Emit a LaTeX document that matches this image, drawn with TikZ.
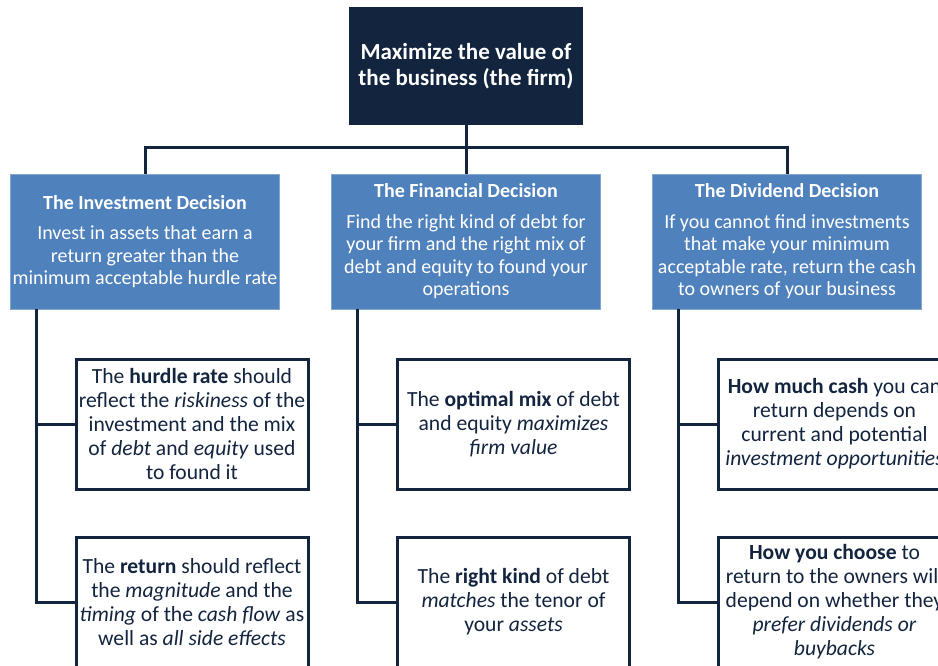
\documentclass[tikz,border=0pt]{standalone}
\usepackage{fontspec}
\setmainfont{Carlito}
\definecolor{navy}{HTML}{13243F}
\definecolor{decblue}{HTML}{4F81BD}
\begin{document}
\begin{tikzpicture}[x=1pt,y=-1pt,
    goalbox/.style={fill=navy, text=white, minimum width=234pt, minimum height=118pt, inner sep=0pt, align=center, font=\fontsize{23}{26}\selectfont\bfseries},
    decbox/.style={fill=decblue, draw=decblue!70!white, line width=0.8pt, text=white, minimum width=269pt, minimum height=135pt, inner sep=0pt, align=center, font=\fontsize{20}{22.5}\selectfont},
    notebox/.style={draw=navy, line width=3pt, fill=white, text=navy, minimum width=232pt, minimum height=130pt, inner sep=0pt, align=center, font=\fontsize{21.6}{24}\selectfont},
    link/.style={draw=navy, line width=3pt}]
                  \useasboundingbox (0,0) rectangle (938,665);
                  \clip (0,0) rectangle (938,665);
                  \node [goalbox] (goal) at (466,66) {Maximize the value of\\the business (the firm)};
                  \node [decbox] (invest) at (145,241.5) {\textbf{The Investment Decision}\\[8pt]Invest in assets that earn a\\return greater than the\\minimum acceptable hurdle rate};
                  \node [decbox] (finance) at (466,241.5) {\textbf{The Financial Decision}\\[8pt]Find the right kind of debt for\\your firm and the right mix of\\debt and equity to found your\\operations};
                  \node [decbox] (divid) at (787,241.5) {\textbf{The Dividend Decision}\\[8pt]If you cannot find investments\\that make your minimum\\acceptable rate, return the cash\\to owners of your business};
                  \node [notebox] (investA) at (192,424) {The \textbf{hurdle rate} should\\reflect the \textit{riskiness} of the\\investment and the mix\\of \textit{debt} and \textit{equity} used\\to found it};
                  \node [notebox] (investB) at (192,602) {The \textbf{return} should reflect\\the \textit{magnitude} and the\\\textit{timing} of the \textit{cash flow} as\\well as \textit{all side effects}};
                  \node [notebox] (financeA) at (513.5,424) {The \textbf{optimal mix} of debt\\and equity \textit{maximizes}\\\textit{firm value}};
                  \node [notebox] (financeB) at (513.5,602) {The \textbf{right kind} of debt\\\textit{matches} the tenor of\\your \textit{assets}};
                  \node [notebox] (dividA) at (834.5,424) {\textbf{How much cash} you can\\return depends on\\current and potential\\\textit{investment opportunities}};
                  \node [notebox] (dividB) at (834.5,602) {\textbf{How you choose} to\\return to the owners will\\depend on whether they\\\textit{prefer dividends or}\\\textit{buybacks}};
                  \coordinate (bar) at (0,147);
                  \coordinate (trunkI) at ([xshift=26pt]invest.south west);
                  \coordinate (trunkF) at ([xshift=26pt]finance.south west);
                  \coordinate (trunkD) at ([xshift=26pt]divid.south west);
                  \draw [link] (goal.south) -- (finance.north);
                  \draw [link] (invest.north) -- (invest.north |- bar) -- (divid.north |- bar) -- (divid.north);
                  \draw [link] (trunkI) |- (investB.west);
                  \draw [link] (trunkI |- investA.west) -- (investA.west);
                  \draw [link] (trunkF) |- (financeB.west);
                  \draw [link] (trunkF |- financeA.west) -- (financeA.west);
                  \draw [link] (trunkD) |- (dividB.west);
                  \draw [link] (trunkD |- dividA.west) -- (dividA.west);
\end{tikzpicture}
\end{document}
